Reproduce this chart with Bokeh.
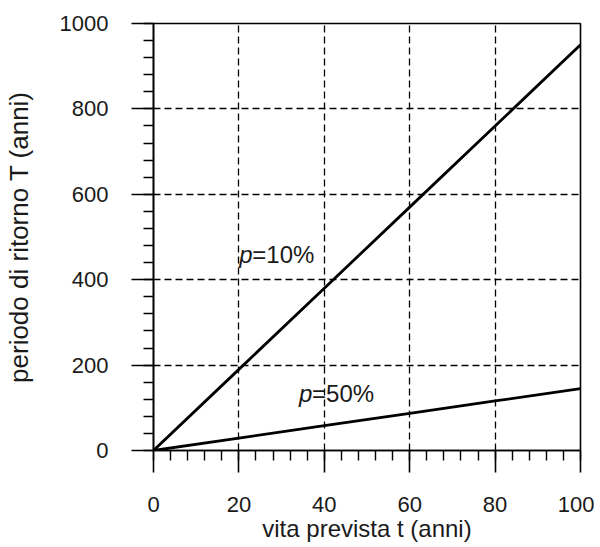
from bokeh.plotting import figure
from bokeh.models import FixedTicker, Label, Range1d
from bokeh.embed import file_html
from bokeh.resources import INLINE

# --- data ---
t_years = [0, 20, 40, 60, 80, 100]
T_p10 = [0, 190, 380, 570, 760, 950]
T_p50 = [0, 29, 58, 87, 116, 145]
x_ticks = [0, 20, 40, 60, 80, 100]
y_ticks = [0, 200, 400, 600, 800, 1000]
grid_x = [20, 40, 60, 80]
grid_y = [200, 400, 600, 800]

FONT = "Liberation Sans"
INK = "#1a1a1a"

p = figure(width=592, height=539, output_backend="svg", toolbar_location=None,
           x_range=Range1d(0, 100), y_range=Range1d(0, 1000),
           frame_width=427, frame_height=427,
           min_border_left=151, min_border_right=14, min_border_top=23, min_border_bottom=89)
p.background_fill_color = "white"
p.border_fill_color = "white"
p.outline_line_color = "black"
p.outline_line_width = 1.6

for ax, ticks, step in ((p.xaxis[0], x_ticks, 4), (p.yaxis[0], y_ticks, 40)):
    ax.ticker = FixedTicker(ticks=ticks, minor_ticks=list(range(0, 1001, step)))
    ax.axis_line_color = "black"
    ax.axis_line_width = 1.6
    ax.major_tick_line_color = "black"
    ax.major_tick_line_width = 1.6
    ax.minor_tick_line_color = "black"
    ax.minor_tick_line_width = 1.4
    ax.major_tick_in = 0
    ax.major_tick_out = 22
    ax.minor_tick_in = 0
    ax.minor_tick_out = 10
    ax.major_label_text_font = FONT
    ax.major_label_text_font_size = "22px"
    ax.major_label_text_color = INK
    ax.axis_label_text_font = FONT
    ax.axis_label_text_font_style = "normal"
    ax.axis_label_text_color = INK

p.xaxis.axis_label = "vita prevista t (anni)"
p.xaxis.axis_label_text_font_size = "24px"
p.xaxis.major_label_standoff = 24
p.xaxis.axis_label_standoff = 0
p.yaxis.axis_label = "periodo di ritorno T (anni)"
p.yaxis.axis_label_text_font_size = "26px"
p.yaxis.major_label_standoff = 23
p.yaxis.axis_label_standoff = 23

p.xgrid.ticker = FixedTicker(ticks=grid_x)
p.ygrid.ticker = FixedTicker(ticks=grid_y)
for g in (p.xgrid[0], p.ygrid[0]):
    g.grid_line_color = "black"
    g.grid_line_width = 1.3
    g.grid_line_dash = "7 4"

p.line(t_years, T_p10, line_color="black", line_width=2.8)
p.line(t_years, T_p50, line_color="black", line_width=2.8)

# curve labels: italic p followed by the upright rest
for (lx, ly, rest) in ((20.1, 438, "=10%"), (34.1, 112, "=50%")):
    p.add_layout(Label(x=lx, y=ly, y_offset=9, text="p", text_font=FONT, text_font_style="italic",
                       text_font_size="24px", text_color=INK, text_baseline="alphabetic"))
    p.add_layout(Label(x=lx, y=ly, x_offset=13, y_offset=9, text=rest, text_font=FONT,
                       text_font_size="24px", text_color=INK, text_baseline="alphabetic"))

open("out.html", "w").write(file_html(p, INLINE))
